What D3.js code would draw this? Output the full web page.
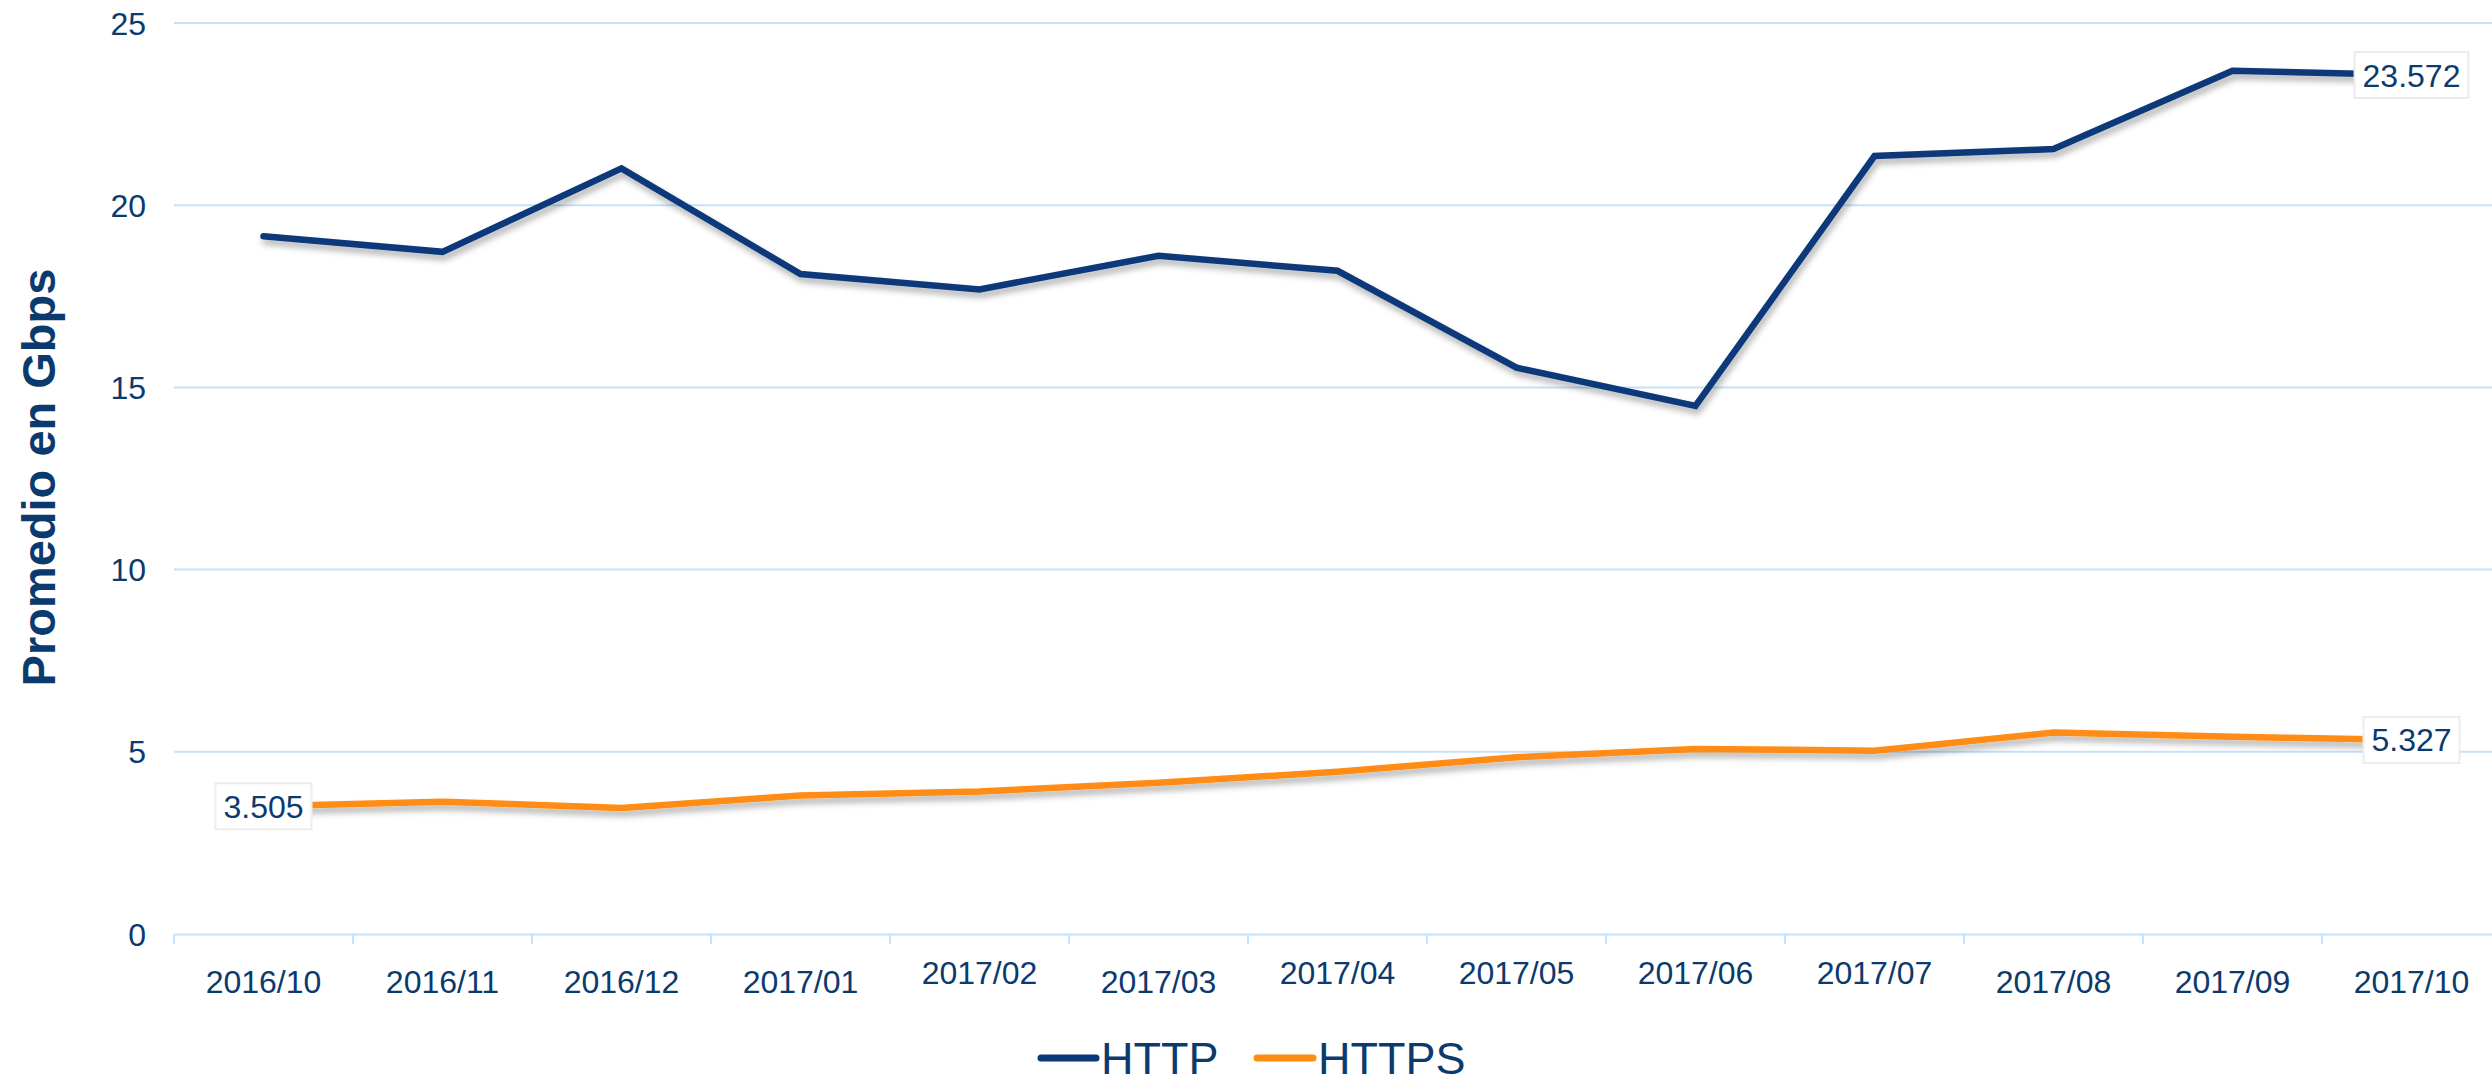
<!DOCTYPE html>
<html>
<head>
<meta charset="utf-8">
<script src="https://cdn.jsdelivr.net/npm/d3@7"></script>
<style>
  html, body { margin: 0; padding: 0; background: #ffffff; }
  svg { display: block; }
</style>
</head>
<body>
<svg id="chart" width="2492" height="1084"></svg>
<script>
// ---- data ----
const categories = ["2016/10","2016/11","2016/12","2017/01","2017/02","2017/03","2017/04","2017/05","2017/06","2017/07","2017/08","2017/09","2017/10"];
const httpValues  = [19.15, 18.72, 21.01, 18.11, 17.69, 18.61, 18.20, 15.54, 14.49, 21.35, 21.54, 23.69, 23.572];
const httpsValues = [3.505, 3.63, 3.46, 3.80, 3.91, 4.15, 4.45, 4.85, 5.08, 5.03, 5.53, 5.41, 5.327];
const yTicks = [0, 5, 10, 15, 20, 25];
const seriesNames = ["HTTP", "HTTPS"];
const yTitle = "Promedio en Gbps";

// ---- styling ----
const FONT = "'Liberation Sans', Arial, Helvetica, sans-serif";
const TEXT = "#0b3a6e";
const GRID = "#c6e1fb";
const COLORS = { HTTP: "#0a3879", HTTPS: "#ff8c12" };
const raisedLabels = new Set(["2017/02","2017/04","2017/05","2017/06","2017/07"]);

const svg = d3.select("#chart");
const plotLeft = 174, plotRight = 2501, plotTop = 23, plotBottom = 934;

const x = d3.scaleBand().domain(categories).range([plotLeft, plotRight]).padding(0);
const y = d3.scaleLinear().domain([0, 25]).range([plotBottom, plotTop]);
const cx = d => x(d) + x.bandwidth() / 2;

// drop shadow filter
const defs = svg.append("defs");
const f = defs.append("filter").attr("id", "shadow")
  .attr("x", "-5%").attr("y", "-20%").attr("width", "110%").attr("height", "140%");
f.append("feDropShadow").attr("dx", 2).attr("dy", 5).attr("stdDeviation", 3)
  .attr("flood-color", "#000").attr("flood-opacity", 0.3);

// gridlines (y)
svg.append("g").selectAll("line").data(yTicks.filter(t => t > 0)).join("line")
  .attr("x1", plotLeft).attr("x2", plotRight)
  .attr("y1", d => y(d)).attr("y2", d => y(d))
  .attr("stroke", GRID).attr("stroke-width", 2);

// y tick labels
svg.append("g").selectAll("text").data(yTicks).join("text")
  .attr("x", 146).attr("y", d => y(d) + 11.5)
  .attr("text-anchor", "end")
  .attr("font-family", FONT).attr("font-size", 32).attr("fill", TEXT)
  .text(d => d);

// x axis
const xAxis = d3.axisBottom(x).tickSize(0).tickFormat("");
const gx = svg.append("g").attr("transform", `translate(0,${plotBottom})`).call(xAxis);
gx.select(".domain").attr("stroke", GRID).attr("stroke-width", 2);
gx.selectAll(".tick").remove();
// boundary tick marks
const bounds = categories.map(c => x(c)).concat([plotRight]);
svg.append("g").selectAll("line").data(bounds).join("line")
  .attr("x1", d => d).attr("x2", d => d)
  .attr("y1", plotBottom).attr("y2", plotBottom + 10)
  .attr("stroke", GRID).attr("stroke-width", 2);

// x labels
svg.append("g").selectAll("text").data(categories).join("text")
  .attr("x", d => cx(d))
  .attr("y", d => raisedLabels.has(d) ? 984 : 993)
  .attr("text-anchor", "middle")
  .attr("font-family", FONT).attr("font-size", 32).attr("fill", TEXT)
  .text(d => d);

// y title
svg.append("text")
  .attr("transform", `translate(55,477.5) rotate(-90)`)
  .attr("text-anchor", "middle")
  .attr("font-family", FONT).attr("font-size", 47).attr("font-weight", "bold")
  .attr("fill", TEXT)
  .text(yTitle);

// lines
const line = d3.line().x((d, i) => cx(categories[i])).y(d => y(d));
const series = [
  { name: "HTTP", values: httpValues },
  { name: "HTTPS", values: httpsValues }
];
svg.append("g").selectAll("path").data(series).join("path")
  .attr("d", s => line(s.values))
  .attr("fill", "none")
  .attr("stroke", s => COLORS[s.name])
  .attr("stroke-width", 6.5)
  .attr("stroke-linejoin", "miter")
  .attr("stroke-linecap", "round")
  .attr("filter", "url(#shadow)");

// value labels (first HTTPS, last of both)
const labels = [
  { cat: categories[0], v: httpsValues[0] },
  { cat: categories[categories.length - 1], v: httpValues[httpValues.length - 1] },
  { cat: categories[categories.length - 1], v: httpsValues[httpsValues.length - 1] }
];
const lg = svg.append("g");
labels.forEach(l => {
  const g = lg.append("g");
  const t = g.append("text")
    .attr("x", cx(l.cat)).attr("y", y(l.v) + 11.5)
    .attr("text-anchor", "middle")
    .attr("font-family", FONT).attr("font-size", 32).attr("fill", TEXT)
    .text(d3.format(".3f")(l.v));
  const bb = t.node().getBBox();
  g.insert("rect", "text")
    .attr("x", bb.x - 8).attr("y", y(l.v) - 23)
    .attr("width", bb.width + 16).attr("height", 46)
    .attr("fill", "#ffffff").attr("stroke", "#ececec").attr("stroke-width", 2);
});

// legend
const legend = svg.append("g");
const legendItems = [
  { name: seriesNames[0], x1: 1041, x2: 1096, tx: 1101 },
  { name: seriesNames[1], x1: 1257, x2: 1313, tx: 1318 }
];
legendItems.forEach(it => {
  legend.append("line")
    .attr("x1", it.x1).attr("x2", it.x2).attr("y1", 1058).attr("y2", 1058)
    .attr("stroke", COLORS[it.name]).attr("stroke-width", 7).attr("stroke-linecap", "round");
  legend.append("text")
    .attr("x", it.tx).attr("y", 1074)
    .attr("font-family", FONT).attr("font-size", 45).attr("fill", TEXT)
    .text(it.name);
});
</script>
</body>
</html>
